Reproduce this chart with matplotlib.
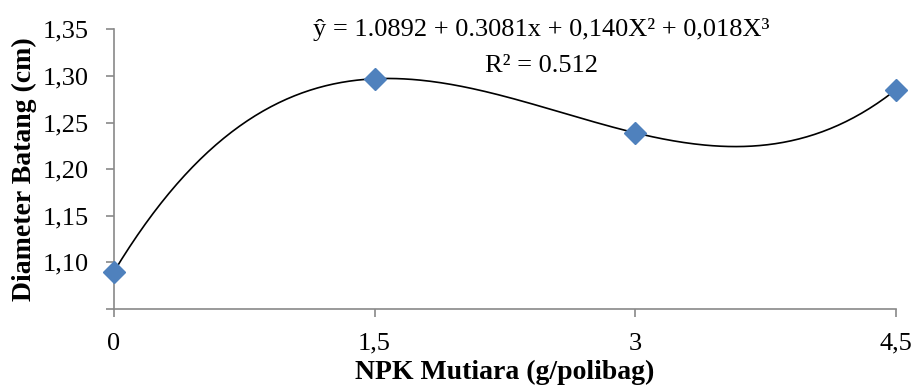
import matplotlib.pyplot as plt
import numpy as np

plt.rcParams['font.family'] = ['Liberation Serif', 'DejaVu Serif']

# data
dosis = [0, 1.5, 3, 4.5]
dosis_label = ['0', '1,5', '3', '4,5']
diameter = [1.090, 1.297, 1.239, 1.285]
y_ticks = [1.05, 1.10, 1.15, 1.20, 1.25, 1.30, 1.35]
y_labels = ['', '1,10', '1,15', '1,20', '1,25', '1,30', '1,35']

fig = plt.figure(figsize=(9.12, 3.92), dpi=100)
ax = fig.add_axes([0.125, 0.212, 0.857, 0.713])

# polynomial trendline (order 3) through the points
coef = np.polyfit(dosis, diameter, 3)
xs = np.linspace(dosis[0], dosis[-1], 300)
ax.plot(xs, np.polyval(coef, xs), color='black', lw=1.2, zorder=2, clip_on=False)
ax.plot(dosis, diameter, 'D', color='#4F81BD', markersize=11, zorder=3, clip_on=False)

ax.set_xlim(0, 4.5)
ax.set_ylim(1.05, 1.35)
ax.set_xticks(dosis)
ax.set_xticklabels(dosis_label)
ax.set_yticks(y_ticks)
ax.set_yticklabels(y_labels)
ax.tick_params(labelsize=19, color='#898989', length=6, width=1.2)
ax.tick_params(axis='y', pad=12)
ax.tick_params(axis='x', pad=11)

for s in ['top', 'right']:
    ax.spines[s].set_visible(False)
for s in ['left', 'bottom']:
    ax.spines[s].set_color('#898989')
    ax.spines[s].set_linewidth(1.2)

ax.set_xlabel('NPK Mutiara (g/polibag)', fontsize=20, fontweight='bold', labelpad=4)
ax.set_ylabel('Diameter Batang (cm)', fontsize=20, fontweight='bold', labelpad=4)

fig.text(0.594, 0.926, 'ŷ = 1.0892 + 0.3081x + 0,140X² + 0,018X³',
         ha='center', va='center', fontsize=19)
fig.text(0.594, 0.832, 'R² = 0.512', ha='center', va='center', fontsize=19)

fig.savefig('out.png', dpi=100)
